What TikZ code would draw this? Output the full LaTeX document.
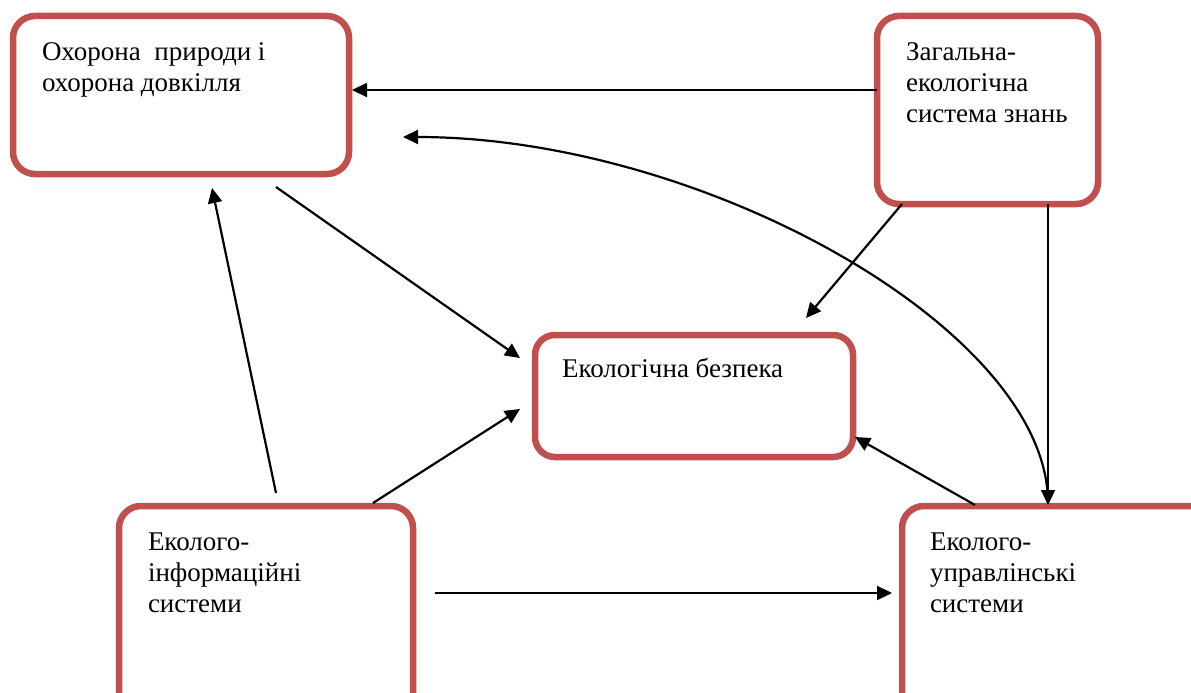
\documentclass[tikz,border=0pt]{standalone}
\usepackage{fontspec}
\setmainfont{Liberation Serif}
\newfontfamily\uaserif{Liberation Serif}
\usetikzlibrary{arrows.meta}
\definecolor{boxred}{RGB}{192,80,77}
\tikzset{
  box/.style={draw=boxred, line width=6.5pt, rounded corners=22pt, fill=white,
    inner sep=0pt, outer sep=0pt, anchor=north west},
  lbl/.style={anchor=north west, inner sep=0pt, outer sep=0pt, align=left,
    font=\uaserif\fontsize{27}{31}\selectfont},
  conn/.style={line width=2.2pt, -{Triangle[length=15pt,width=14pt]}},
}
\newcommand{\firststrut}{\rule{0pt}{20pt}}
\begin{document}
\begin{tikzpicture}[x=1pt,y=-1pt]
\clip (0,0) rectangle (1191,693);
\fill[white] (0,0) rectangle (1191,693);
% boxes
\node[box, minimum width=336pt, minimum height=158pt] (b1) at (13,16) {};
\node[box, minimum width=221pt, minimum height=188pt] (b2) at (877,16) {};
\node[box, minimum width=318pt, minimum height=122pt, rounded corners=20pt] (b3) at (535,335) {};
\node[box, minimum width=294pt, minimum height=214pt] (b4) at (119,506) {};
\node[box, minimum width=313pt, minimum height=214pt] (b5) at (902,506) {};
% texts
\node[lbl] (t1) at (42,40) {\firststrut Охорона\ \ природи і\\охорона довкілля};
\node[lbl] (t2) at (906,40) {\firststrut Загальна-\\екологічна\\система знань};
\node[lbl] (t3) at (562,357) {\firststrut Екологічна безпека};
\node[lbl] (t4) at (148,530) {\firststrut Еколого-\\інформаційні\\системи};
\node[lbl] (t5) at (930,530) {\firststrut Еколого-\\управлінські\\системи};
% connector end points
\coordinate (a1s) at (877,90);   \coordinate (a1e) at (352,90);
\coordinate (a2s) at (1048,503); \coordinate (a2e) at (403,137);
\coordinate (a3s) at (902,204);  \coordinate (a3e) at (806,318);
\coordinate (a4s) at (276,187);  \coordinate (a4e) at (520,358);
\coordinate (a5s) at (276,493);  \coordinate (a5e) at (212,188);
\coordinate (a6s) at (373,503);  \coordinate (a6e) at (520,409);
\coordinate (a7s) at (975,505);  \coordinate (a7e) at (855,437);
\coordinate (a8s) at (435,593);  \coordinate (a8e) at (892,593);
\coordinate (a9s) at (1048,204); \coordinate (a9e) at (1048,505);
% connectors
\draw[conn] (a1s) -- (a1e);
\draw[conn] (a2s) .. controls (1048,330) and (703,137) .. (a2e);
\draw[conn] (a3s) -- (a3e);
\draw[conn] (a4s) -- (a4e);
\draw[conn] (a5s) -- (a5e);
\draw[conn] (a6s) -- (a6e);
\draw[conn] (a7s) -- (a7e);
\draw[conn] (a8s) -- (a8e);
\draw[conn] (a9s) -- (a9e);
\end{tikzpicture}
\end{document}
